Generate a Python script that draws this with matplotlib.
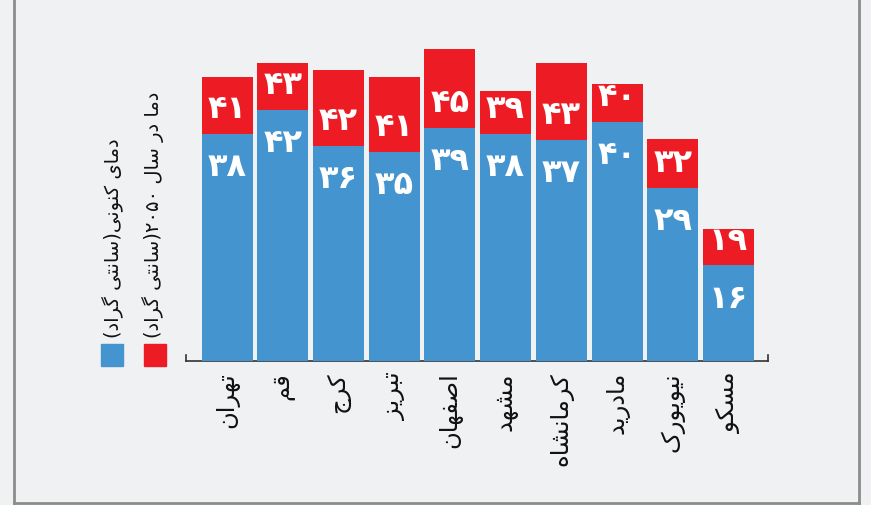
import re
import matplotlib
matplotlib.use('Agg')
import matplotlib.pyplot as plt
from matplotlib.lines import Line2D
import numpy as np

# data
cities = ['تهران', 'قم', 'کرج', 'تبریز', 'اصفهان', 'مشهد', 'کرمانشاه', 'مادرید', 'نیویورک', 'مسکو']
temp_now = [38, 42, 36, 35, 39, 38, 37, 40, 29, 16]
temp_2050 = [41, 43, 42, 41, 45, 39, 43, 40, 32, 19]
legend_now = 'دمای کنونی(سانتی گراد)'
legend_2050 = 'دما در سال ۲۰۵۰(سانتی گراد)'

BLUE = '#4394CF'
RED = '#ED1C24'
BG = '#F0F1F3'

# presentation forms: isolated, final, initial, medial
FORMS = {
    'ا': ('\uFE8D', '\uFE8E', None, None),
    'ب': ('\uFE8F', '\uFE90', '\uFE91', '\uFE92'),
    'ت': ('\uFE95', '\uFE96', '\uFE97', '\uFE98'),
    'ج': ('\uFE9D', '\uFE9E', '\uFE9F', '\uFEA0'),
    'د': ('\uFEA9', '\uFEAA', None, None),
    'ر': ('\uFEAD', '\uFEAE', None, None),
    'ز': ('\uFEAF', '\uFEB0', None, None),
    'س': ('\uFEB1', '\uFEB2', '\uFEB3', '\uFEB4'),
    'ش': ('\uFEB5', '\uFEB6', '\uFEB7', '\uFEB8'),
    'ص': ('\uFEB9', '\uFEBA', '\uFEBB', '\uFEBC'),
    'ف': ('\uFED1', '\uFED2', '\uFED3', '\uFED4'),
    'ق': ('\uFED5', '\uFED6', '\uFED7', '\uFED8'),
    'ل': ('\uFEDD', '\uFEDE', '\uFEDF', '\uFEE0'),
    'م': ('\uFEE1', '\uFEE2', '\uFEE3', '\uFEE4'),
    'ن': ('\uFEE5', '\uFEE6', '\uFEE7', '\uFEE8'),
    'ه': ('\uFEE9', '\uFEEA', '\uFEEB', '\uFEEC'),
    'و': ('\uFEED', '\uFEEE', None, None),
    'ک': ('\uFB8E', '\uFB8F', '\uFB90', '\uFB91'),
    'گ': ('\uFB92', '\uFB93', '\uFB94', '\uFB95'),
    'ی': ('\uFBFC', '\uFBFD', '\uFBFE', '\uFBFF'),
}


def shape(s):
    out = []
    for i, ch in enumerate(s):
        if ch not in FORMS:
            out.append(ch)
            continue
        prev = s[i - 1] if i > 0 else ''
        nxt = s[i + 1] if i + 1 < len(s) else ''
        jp = prev in FORMS and FORMS[prev][2] is not None
        jn = FORMS[ch][2] is not None and nxt in FORMS
        iso, fin, ini, med = FORMS[ch]
        if jp and jn:
            out.append(med)
        elif jp:
            out.append(fin)
        elif jn:
            out.append(ini)
        else:
            out.append(iso)
    vis = ''.join(reversed(out))
    vis = vis.translate(str.maketrans('()', ')('))
    # digits stay left to right
    vis = re.sub('[۰-۹]+', lambda m: m.group(0)[::-1], vis)
    return vis


def fa_num(v):
    return str(v).translate(str.maketrans('0123456789', '۰۱۲۳۴۵۶۷۸۹'))


fig = plt.figure(figsize=(8.71, 5.05), dpi=100, facecolor=BG)
ax = fig.add_axes([186 / 871, 1 - 361 / 505, 582 / 871, 321 / 505])
ax.set_facecolor('none')
ax2 = ax.twinx()

x = np.arange(len(cities))
ax.bar(x, temp_2050, width=0.915, color=RED, zorder=2)
ax2.bar(x, temp_now, width=0.915, color=BLUE, zorder=2)

ax.set_xlim(-0.736, 9.709)
ax2.set_ylim(0, 321 / 5.98)
ax.set_ylim(0, 321 / 6.93)

for a in (ax, ax2):
    for s in ('top', 'left', 'right'):
        a.spines[s].set_visible(False)
    a.set_yticks([])
ax2.spines['bottom'].set_visible(False)
ax.spines['bottom'].set_color('#333333')
ax.spines['bottom'].set_linewidth(1.2)
for xe in (0, 1):
    ax.plot([xe, xe], [0, 0.018], transform=ax.transAxes, color='#333333',
            lw=1.2, clip_on=False)

ax.set_xticks(x)
ax.set_xticklabels([shape(c) for c in cities], rotation=90, fontsize=17.5,
                   family='DejaVu Sans', color='#111111')
ax.tick_params(axis='x', length=0, pad=8)

for xi, vn, vf in zip(x, temp_now, temp_2050):
    ax2.annotate(fa_num(vf), (xi, vn), xytext=(0, 24), textcoords='offset pixels',
                 ha='center', va='center', color='white', fontsize=23,
                 fontweight='bold', family='DejaVu Sans', zorder=5)
    ax2.annotate(fa_num(vn), (xi, vn), xytext=(0, -34), textcoords='offset pixels',
                 ha='center', va='center', color='white', fontsize=23,
                 fontweight='bold', family='DejaVu Sans', zorder=5)

# legend
fig.text(113 / 871, 1 - 338 / 505, shape(legend_now), rotation=90, ha='center',
         va='bottom', fontsize=14, color='#111111', family='DejaVu Sans')
fig.text(153 / 871, 1 - 338 / 505, shape(legend_2050), rotation=90, ha='center',
         va='bottom', fontsize=14, color='#111111', family='DejaVu Sans')
fig.patches.append(plt.Rectangle((101 / 871, 1 - 366 / 505), 22 / 871, 22 / 505,
                                 transform=fig.transFigure, color=BLUE))
fig.patches.append(plt.Rectangle((144 / 871, 1 - 366 / 505), 22 / 871, 22 / 505,
                                 transform=fig.transFigure, color=RED))

# frame
fc = '#8C8C8C'
fig.add_artist(Line2D([14 / 871, 14 / 871], [0.004, 1], color=fc, lw=2))
fig.add_artist(Line2D([859 / 871, 859 / 871], [0.004, 1], color=fc, lw=2))
fig.add_artist(Line2D([14 / 871, 859 / 871], [0.004, 0.004], color=fc, lw=2))

fig.savefig('out.png', dpi=100, facecolor=BG)
